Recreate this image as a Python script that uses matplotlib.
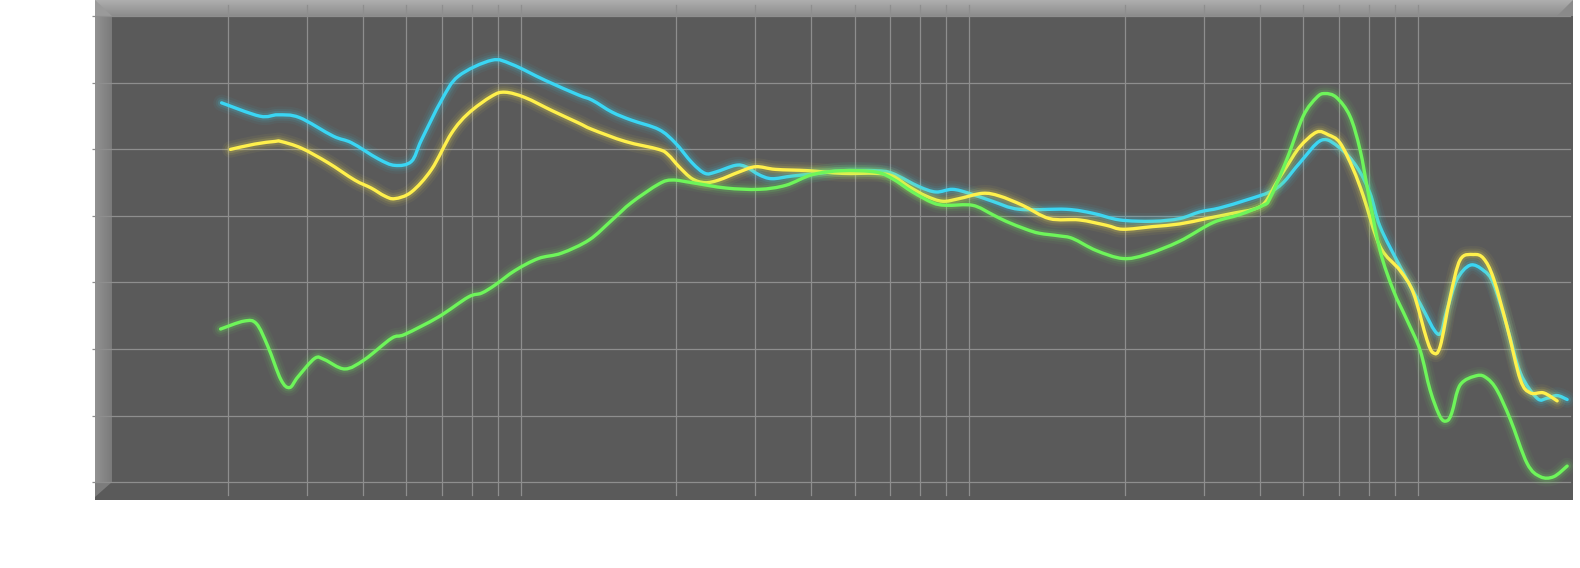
import numpy as np
import matplotlib
matplotlib.use('Agg')
import matplotlib.pyplot as plt
from matplotlib.patches import Rectangle, Polygon, PathPatch
from matplotlib.path import Path

## DATA (frequency in Hz, level in dB)

cyan_hz = [19.4, 23.6, 25.9, 28.9, 34.4, 37.8, 43.3, 47.2, 51.4, 54.1, 60.0, 65.4, 77.6, 86.0, 102,
           121, 130, 144, 159, 183, 199, 217, 232, 245, 271, 286, 306, 327, 363, 416,
           469, 557, 607, 696, 759, 826, 900, 1015, 1164, 1481, 1698, 1948, 2311, 2652, 2939,
           3257, 3737, 4212, 4510, 4915, 5495, 6037, 6580, 7046, 7417, 8219, 9112, 10010, 10450, 11000,
           11780, 12620, 13280, 14230, 15240, 16610, 17480, 18410, 19380]
cyan_db = [78.5, 77.5, 77.6, 77.4, 76.0, 75.5, 74.3, 73.8, 74.1, 75.7, 78.7, 80.5, 81.7, 81.4, 80.2,
           79.1, 78.7, 77.8, 77.2, 76.5, 75.5, 74.0, 73.2, 73.3, 73.8, 73.7, 73.1, 72.8, 73.0, 73.2,
           73.4, 73.4, 73.2, 72.2, 71.8, 72.0, 71.7, 71.1, 70.5, 70.5, 70.2, 69.7, 69.6, 69.8, 70.3,
           70.6, 71.2, 71.8, 72.5, 74.0, 75.7, 75.1, 73.7, 71.7, 69.2, 66.2, 63.4, 61.1, 62.9, 65.2,
           66.3, 65.9, 64.9, 61.7, 58.2, 56.3, 56.3, 56.5, 56.2]

yellow_hz = [20.3, 23.0, 25.5, 26.3, 29.2, 33.5, 38.4, 41.8, 44.8, 47.2, 51.4, 57.0, 63.1, 68.8, 77.6,
             83.1, 92.1, 106, 121, 130, 154, 183, 192, 203, 217, 232, 249, 276, 301, 333,
             395, 469, 557, 607, 661, 721, 785, 855, 964, 1051, 1184, 1359, 1585, 1819, 1981,
             2311, 2652, 3042, 3488, 3866, 4107, 4360, 4590, 4915, 5357, 5685, 6037, 6465, 6808, 7417,
             8219, 8805, 9433, 9756, 10100, 10630, 11190, 11990, 12620, 13280, 14230, 15240, 16050, 17180, 18410]
yellow_db = [75.0, 75.4, 75.6, 75.6, 75.1, 74.0, 72.7, 72.1, 71.5, 71.3, 71.8, 73.5, 76.2, 77.7, 79.0,
             79.3, 78.9, 77.9, 77.0, 76.5, 75.6, 75.0, 74.6, 73.7, 72.8, 72.5, 72.7, 73.3, 73.7, 73.5,
             73.4, 73.2, 73.2, 73.0, 72.2, 71.5, 71.1, 71.3, 71.7, 71.5, 70.8, 69.8, 69.7, 69.3, 69.0,
             69.2, 69.4, 69.8, 70.2, 70.5, 71.0, 72.5, 73.7, 75.2, 76.3, 76.1, 75.5, 73.5, 71.5, 67.7,
             65.9, 64.2, 60.7, 59.7, 60.2, 63.9, 66.7, 67.1, 66.8, 65.3, 61.7, 57.7, 56.7, 56.7, 56.1]

green_hz = [19.3, 21.8, 23.2, 24.6, 26.3, 27.5, 28.7, 31.3, 32.9, 36.5, 40.4, 46.4, 49.7, 59.0, 68.8,
            73.7, 78.9, 87.5, 98.6, 111, 128, 144, 159, 183, 196, 217, 258, 306, 351, 402,
            469, 557, 607, 673, 746, 799, 916, 1015, 1087, 1205, 1290, 1430, 1532, 1728, 1981,
            2234, 2652, 3147, 3610, 4071, 4212, 4590, 4999, 5357, 5590, 5933, 6355, 6691, 6985, 7417,
            7943, 8511, 9112, 9592, 10100, 10450, 10720, 11190, 12200, 12840, 13520, 14480, 15780, 16890, 18080,
            19380]
green_db = [61.5, 62.1, 61.9, 60.2, 57.7, 57.1, 57.9, 59.3, 59.2, 58.5, 59.2, 60.8, 61.1, 62.4, 63.9,
            64.2, 64.8, 65.9, 66.8, 67.2, 68.2, 69.7, 71.0, 72.4, 72.7, 72.5, 72.1, 72.0, 72.3, 73.1,
            73.4, 73.3, 72.8, 71.8, 71.0, 70.8, 70.8, 70.1, 69.6, 69.0, 68.7, 68.5, 68.3, 67.4, 66.8,
            67.1, 68.1, 69.5, 70.1, 70.8, 71.3, 74.2, 77.5, 78.9, 79.2, 78.9, 77.5, 75.0, 71.7, 67.4,
            64.4, 62.2, 59.9, 56.9, 54.9, 54.6, 55.2, 57.3, 58.0, 57.8, 56.9, 54.7, 51.4, 50.4, 50.4,
            51.2]

# grid positions (no lines at the decades themselves)
x_grid = [m * d for d in (10, 100, 1000) for m in range(2, 10)]
y_grid = [50, 55, 60, 65, 70, 75, 80, 85]

# colours
wall = '#5a5a5a'
grid_col = '#8e8e8e'
colors = {'cyan': '#3ad6f4', 'yellow': '#fff04c', 'green': '#6ef55a'}

# axes size in pixels, used for the fake 3D bevel
W, H = 1478, 500


def px_rect(ax, x0, y0, x1, y1, color):
    # rectangle given in pixels from the axes top-left corner
    ax.add_patch(Rectangle((x0 / W, 1 - y1 / H), (x1 - x0) / W, (y1 - y0) / H,
                           transform=ax.transAxes, facecolor=color, edgecolor='none',
                           zorder=0.2, clip_on=False))


def bevel(ax):
    # top band, light at top
    for i in range(16):
        g = 0.68 - 0.13 * i / 15
        px_rect(ax, 0, i, W, i + 1, (g, g, g))
    # left band, lighter outside
    for i in range(17):
        g = 0.57 - 0.09 * i / 16
        px_rect(ax, i, 16, i + 1, 482, (g, g, g))
    # corners
    ax.add_patch(Polygon([(0, 1), (17 / W, 1 - 16 / H), (0, 1 - 16 / H)], closed=True,
                         transform=ax.transAxes, facecolor='#9a9a9a', edgecolor='none', zorder=0.25))
    ax.add_patch(Polygon([(0, 1 - 482 / H), (17 / W, 1 - 482 / H), (0, 1 - 497 / H)], closed=True,
                         transform=ax.transAxes, facecolor='#7c7c7c', edgecolor='none', zorder=0.25))
    ax.add_patch(Polygon([(1 - 16 / W, 1 - 16 / H), (1, 1), (1, 1 - 16 / H)], closed=True,
                         transform=ax.transAxes, facecolor='#8a8a8a', edgecolor='none', zorder=0.25))


# smooth path through the points (catmull-rom as bezier, done in log x)
def smooth_path(x, y):
    p = np.column_stack([np.log10(x), y])
    n = len(p)
    verts = [p[0]]
    codes = [Path.MOVETO]
    for i in range(n - 1):
        p0 = p[max(i - 1, 0)]
        p1 = p[i]
        p2 = p[i + 1]
        p3 = p[min(i + 2, n - 1)]
        c1 = p1 + (p2 - p0) / 6
        c2 = p2 - (p3 - p1) / 6
        verts += [c1, c2, p2]
        codes += [Path.CURVE4] * 3
    verts = np.array(verts)
    verts[:, 0] = 10 ** verts[:, 0]
    return Path(verts, codes)


# glowing line
def glow(ax, x, y, color):
    path = smooth_path(x, y)
    for lw, a in [(12, 0.05), (8.5, 0.08), (5.5, 0.14), (2.4, 1.0)]:
        ax.add_patch(PathPatch(path, facecolor='none', edgecolor=color, lw=lw, alpha=a,
                               capstyle='round', joinstyle='round', zorder=3))


def main():
    fig = plt.figure(figsize=(15.8, 5.68), dpi=100)
    fig.patch.set_facecolor('white')
    ax = fig.add_axes([95 / 1580, (568 - 500) / 568, W / 1580, H / 568])
    ax.set_facecolor(wall)
    ax.set_xscale('log')

    bevel(ax)

    # grid
    for xv in x_grid:
        ax.axvline(xv, ymin=0.01, ymax=0.99, color=grid_col, lw=0.9, zorder=1)
    for yv in y_grid:
        ax.axhline(yv, xmin=0, xmax=0.998, color=grid_col, lw=0.9, zorder=1)

    glow(ax, cyan_hz, cyan_db, colors['cyan'])
    glow(ax, yellow_hz, yellow_db, colors['yellow'])
    glow(ax, green_hz, green_db, colors['green'])

    ax.set_xlim(10.13, 19970)
    ax.set_ylim(48.65, 86.23)
    ax.set_xticks([])
    ax.set_xticks([], minor=True)
    ax.set_yticks(y_grid)
    ax.set_yticklabels([])
    ax.tick_params(axis='y', length=2, width=0.9, color=grid_col, direction='out')
    for s in ax.spines.values():
        s.set_visible(False)

    fig.savefig('out.png', dpi=100, facecolor='white')


main()
